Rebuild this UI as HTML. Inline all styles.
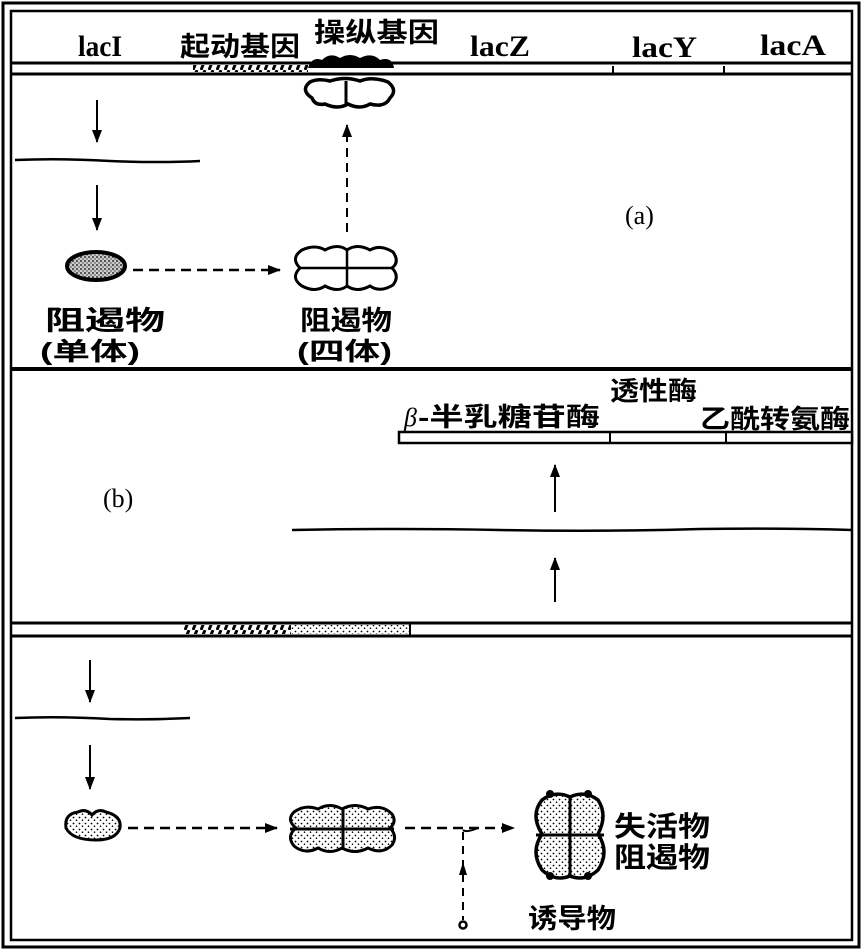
<!DOCTYPE html>
<html><head><meta charset="utf-8">
<style>
html,body{margin:0;padding:0;background:#fff;}
svg{display:block;}
text{font-family:"Liberation Serif","Noto Serif CJK SC",serif;fill:#000;}
.cj{font-family:"Liberation Sans","Noto Sans CJK SC",sans-serif;font-weight:bold;}
.lt{font-family:"Liberation Serif",serif;font-weight:bold;}
</style></head><body>
<svg width="863" height="951" viewBox="0 0 863 951" xmlns="http://www.w3.org/2000/svg">
<defs>
<pattern id="hatch" width="8" height="10" patternUnits="userSpaceOnUse">
<rect width="8" height="10" fill="#fff"/>
<path d="M1 10 L5 0" stroke="#000" stroke-width="3"/>
</pattern>
<pattern id="dots" width="6" height="6" patternUnits="userSpaceOnUse">
<rect width="6" height="6" fill="#fff"/>
<circle cx="1.5" cy="1.5" r="0.9" fill="#000"/><circle cx="4.5" cy="4.2" r="0.8" fill="#000"/>
</pattern>
<pattern id="dense" width="4" height="4" patternUnits="userSpaceOnUse">
<rect width="4" height="4" fill="#ccc"/>
<circle cx="1" cy="1" r="0.9" fill="#000"/><circle cx="3" cy="3" r="0.7" fill="#333"/>
</pattern>
<marker id="ah" markerWidth="14" markerHeight="12" refX="12" refY="6" orient="auto" markerUnits="userSpaceOnUse">
<path d="M0 1 L13 6 L0 11 Z" fill="#000"/>
</marker>
</defs>
<!-- frames -->
<rect x="3" y="3" width="856" height="944" fill="none" stroke="#000" stroke-width="3"/>
<rect x="11" y="11" width="841" height="929" fill="none" stroke="#000" stroke-width="2.5"/>

<!-- top labels -->
<text class="lt" x="78" y="56" font-size="30" textLength="44" lengthAdjust="spacingAndGlyphs">lacI</text>
<text class="cj" x="180" y="56" font-size="27" textLength="120" lengthAdjust="spacingAndGlyphs">起动基因</text>
<text class="cj" x="314" y="42" font-size="27" textLength="125" lengthAdjust="spacingAndGlyphs">操纵基因</text>
<text class="lt" x="470" y="56" font-size="30" textLength="60" lengthAdjust="spacingAndGlyphs">lacZ</text>
<text class="lt" x="632" y="57" font-size="30" textLength="65" lengthAdjust="spacingAndGlyphs">lacY</text>
<text class="lt" x="760" y="55" font-size="30" textLength="66" lengthAdjust="spacingAndGlyphs">lacA</text>

<!-- top bar -->
<line x1="11" y1="63" x2="852" y2="63" stroke="#000" stroke-width="3"/>
<line x1="11" y1="74" x2="852" y2="74" stroke="#000" stroke-width="3"/>
<rect x="193" y="65" width="115" height="7" fill="url(#hatch)"/>
<line x1="613" y1="66" x2="613" y2="73" stroke="#000" stroke-width="2"/>
<line x1="724" y1="66" x2="724" y2="73" stroke="#000" stroke-width="2"/>
<path d="M308 68 Q312 56 322 60 Q330 52 340 58 Q350 52 360 58 Q372 52 380 60 Q392 56 394 68 Z" fill="#000"/>
<path d="M312 98 Q300 90 310 82 Q318 78 330 81 Q345 76 360 81 Q372 76 388 82 Q398 90 390 98 Q385 108 370 104 Q360 110 348 104 Q338 110 325 104 Q315 106 312 98 Z" fill="#fff" stroke="#000" stroke-width="3.5"/>
<line x1="346" y1="81" x2="346" y2="104" stroke="#000" stroke-width="3"/>

<!-- section a -->
<line x1="97" y1="100" x2="97" y2="142" stroke="#000" stroke-width="2" marker-end="url(#ah)"/>
<path d="M15 160 Q60 158 110 161 Q160 163 200 161" stroke="#000" stroke-width="2.5" fill="none"/>
<line x1="97" y1="185" x2="97" y2="230" stroke="#000" stroke-width="2" marker-end="url(#ah)"/>
<ellipse cx="96" cy="266" rx="29" ry="14" fill="url(#dense)" stroke="#000" stroke-width="4"/>
<line x1="133" y1="270" x2="280" y2="270" stroke="#000" stroke-width="2.5" stroke-dasharray="10,6" marker-end="url(#ah)"/>
<line x1="347" y1="232" x2="347" y2="125" stroke="#000" stroke-width="2" stroke-dasharray="9,6" marker-end="url(#ah)"/>
<path d="M300 268 Q290 258 302 250 Q315 244 325 250 Q338 243 347 250 Q357 243 370 250 Q380 244 393 252 Q400 262 392 268 Q400 276 393 285 Q380 293 370 286 Q357 293 347 286 Q338 293 325 286 Q315 293 302 286 Q290 278 300 268 Z" fill="#fff" stroke="#000" stroke-width="3"/>
<line x1="298" y1="268" x2="394" y2="268" stroke="#000" stroke-width="2.5"/>
<line x1="347" y1="248" x2="347" y2="288" stroke="#000" stroke-width="2.5"/>
<text class="cj" x="45" y="330" font-size="27" textLength="120" lengthAdjust="spacingAndGlyphs">阻遏物</text>
<text class="cj" x="40" y="360" font-size="25" textLength="100" lengthAdjust="spacingAndGlyphs">(单体)</text>
<text class="cj" x="300" y="330" font-size="27" textLength="92" lengthAdjust="spacingAndGlyphs">阻遏物</text>
<text class="cj" x="297" y="360" font-size="25" textLength="95" lengthAdjust="spacingAndGlyphs">(四体)</text>
<text x="625" y="224" font-size="26">(a)</text>

<line x1="11" y1="369" x2="852" y2="369" stroke="#000" stroke-width="4"/>

<!-- section b -->
<text x="404" y="426" font-size="26" font-style="italic">β</text>
<text class="cj" x="418" y="426" font-size="26" textLength="182" lengthAdjust="spacingAndGlyphs">-半乳糖苷酶</text>
<text class="cj" x="610" y="400" font-size="26" textLength="87" lengthAdjust="spacingAndGlyphs">透性酶</text>
<text class="cj" x="700" y="428" font-size="26" textLength="150" lengthAdjust="spacingAndGlyphs">乙酰转氨酶</text>
<rect x="399" y="432" width="453" height="11" fill="#fff" stroke="#000" stroke-width="2.5"/>
<line x1="610" y1="432" x2="610" y2="443" stroke="#000" stroke-width="2"/>
<line x1="726" y1="432" x2="726" y2="443" stroke="#000" stroke-width="2"/>
<text x="103" y="507" font-size="26">(b)</text>
<line x1="555" y1="512" x2="555" y2="465" stroke="#000" stroke-width="2" marker-end="url(#ah)"/>
<path d="M292 530 Q400 528 500 530 Q600 532 700 529 Q780 528 852 530" stroke="#000" stroke-width="2.5" fill="none"/>
<line x1="555" y1="602" x2="555" y2="558" stroke="#000" stroke-width="2" marker-end="url(#ah)"/>

<!-- DNA bar -->
<line x1="11" y1="623" x2="852" y2="623" stroke="#000" stroke-width="3"/>
<line x1="11" y1="636" x2="852" y2="636" stroke="#000" stroke-width="3"/>
<rect x="183" y="625" width="108" height="9" fill="url(#hatch)"/>
<rect x="291" y="625" width="118" height="9" fill="url(#dots)"/>
<line x1="410" y1="624" x2="410" y2="635" stroke="#000" stroke-width="2"/>

<!-- section c -->
<line x1="90" y1="660" x2="90" y2="702" stroke="#000" stroke-width="2" marker-end="url(#ah)"/>
<path d="M15 718 Q60 716 110 719 Q150 720 190 718" stroke="#000" stroke-width="2.5" fill="none"/>
<line x1="90" y1="745" x2="90" y2="789" stroke="#000" stroke-width="2" marker-end="url(#ah)"/>
<path d="M78 812 Q86 808 92 815 Q98 808 106 812 Q122 816 120 828 Q116 840 96 840 Q72 840 66 828 Q64 814 78 812 Z" fill="url(#dots)" stroke="#000" stroke-width="3"/>
<line x1="128" y1="828" x2="277" y2="828" stroke="#000" stroke-width="2.5" stroke-dasharray="10,6" marker-end="url(#ah)"/>
<path d="M296 828 Q286 820 294 812 Q305 804 318 809 Q330 802 342 809 Q355 802 368 809 Q382 804 392 814 Q397 822 390 828 Q398 836 392 845 Q382 855 368 848 Q355 855 342 848 Q330 855 318 848 Q305 855 294 846 Q286 836 296 828 Z" fill="url(#dots)" stroke="#000" stroke-width="3"/>
<line x1="290" y1="829" x2="394" y2="829" stroke="#000" stroke-width="3"/>
<line x1="343" y1="808" x2="343" y2="850" stroke="#000" stroke-width="3"/>
<line x1="405" y1="828" x2="514" y2="828" stroke="#000" stroke-width="2.5" stroke-dasharray="10,6" marker-end="url(#ah)"/>
<line x1="463" y1="832" x2="463" y2="920" stroke="#000" stroke-width="2" stroke-dasharray="8,6"/>
<path d="M463 830 Q466 833 478 828" stroke="#000" stroke-width="2" fill="none"/>
<path d="M459 875 L463 862 L467 875 Z" fill="#000"/>
<circle cx="463" cy="925" r="3.5" fill="#fff" stroke="#000" stroke-width="2.5"/>
<!-- inactive repressor -->
<path d="M570 797 Q585 790 598 800 Q608 815 598 834 Q610 852 598 870 Q585 882 570 876 Q555 882 542 870 Q530 852 542 834 Q530 815 542 800 Q555 790 570 797 Z" fill="url(#dots)" stroke="#000" stroke-width="3.5"/>
<line x1="570" y1="797" x2="570" y2="876" stroke="#000" stroke-width="3"/>
<line x1="536" y1="835" x2="604" y2="835" stroke="#000" stroke-width="3"/>
<circle cx="550" cy="794" r="4" fill="#000"/><circle cx="588" cy="794" r="4" fill="#000"/>
<circle cx="550" cy="876" r="4" fill="#000"/><circle cx="588" cy="876" r="4" fill="#000"/>
<text class="cj" x="614" y="836" font-size="28" textLength="96" lengthAdjust="spacingAndGlyphs">失活物</text>
<text class="cj" x="614" y="867" font-size="28" textLength="96" lengthAdjust="spacingAndGlyphs">阻遏物</text>
<text class="cj" x="528" y="928" font-size="27" textLength="88" lengthAdjust="spacingAndGlyphs">诱导物</text>
</svg>
</body></html>
